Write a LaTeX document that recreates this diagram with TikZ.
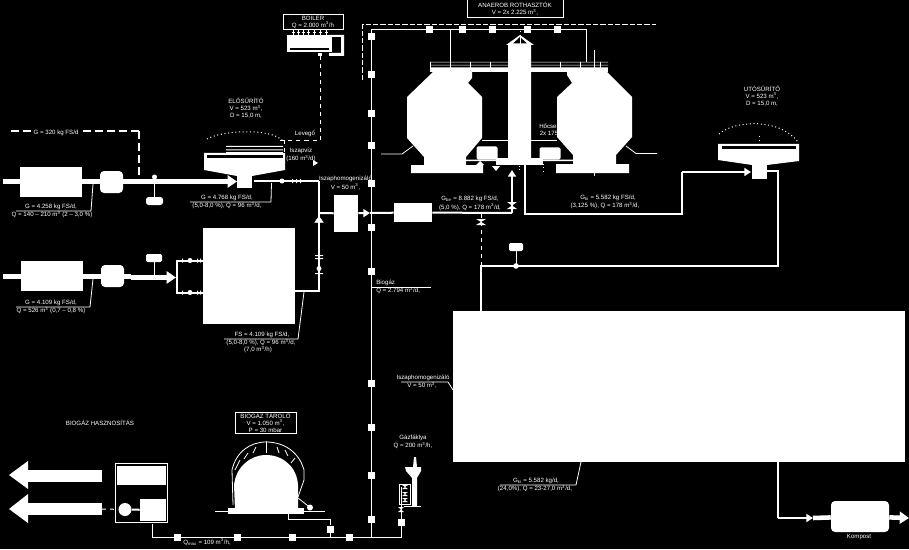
\documentclass[tikz,border=0pt]{standalone}
\usepackage{fontspec}
\setmainfont{Liberation Sans}
\usepackage{tikz}
\usetikzlibrary{positioning,arrows.meta,calc}
\newcommand{\px}[1]{#1*0.75pt}
\newcommand{\cbm}{m\textsuperscript{3}}
\begin{document}
\begin{tikzpicture}[
  x=0.75pt,y=-0.75pt,
  font=\fontsize{4.6}{5.2}\selectfont,
  white,
  lbl/.style={text=white,align=center,inner sep=0pt},
  wbox/.style 2 args={fill=white,inner sep=0pt,minimum width=\px{#1},minimum height=\px{#2}},
  rbox/.style 2 args={fill=white,inner sep=0pt,rounded corners=3pt,minimum width=\px{#1},minimum height=\px{#2}},
  obox/.style 2 args={draw=white,line width=0.75pt,fill=black,align=center,inner sep=0pt,minimum width=\px{#1},minimum height=\px{#2}},
  sq/.style={fill=white,inner sep=0pt,minimum size=\px{7}},
  band/.style={white,line width=3.4pt},
  pipe/.style={white,line width=1.5pt},
  thinline/.style={white,line width=0.75pt},
  arr/.style={-{Triangle[length=7pt,width=9pt]}},
  arrs/.style={-{Triangle[length=5pt,width=6pt]}},
  leader/.style={white,line width=0.6pt}
]
\fill[black] (0,0) rectangle (909,549);
\useasboundingbox (0,0) rectangle (909,549);

% upper feed line
\node[wbox={62}{30}] (feedA) at (51,182) {};
\node[rbox={23}{22}] (pumpA) at (111.5,182) {};
\coordinate (feedAin) at (3,181.5);
\node[rbox={17}{8},rounded corners=2pt] (blobA) at (154.5,201) {};
\coordinate (tapA) at (154.5,181.5);
\draw[band,arr] (feedAin) -- (237,181.5);
\draw[thinline] (tapA) -- (blobA);
\fill (154.5,177) circle (2.5);
\coordinate (flocA) at (139,131);
\coordinate (flocB) at (139,178);
\draw[white,line width=1pt,dash pattern=on 6pt off 3pt] (11,131) -- (flocA);
\draw[white,line width=1.6pt,dash pattern=on 6pt off 3pt] (flocA) -- (flocB);
\node[lbl,fill=black,inner xsep=2pt] (gFloc) at (56,133) {G = 320 kg FS/d};

% upper thickener
\node[wbox={15}{16}] (thickA) at (244.5,180) {};
\fill (204,153) -- (285,153) -- (285,170) -- (252,176) -- (237,176) -- (204,170) -- cycle;
\fill[black] (207,155) rectangle (283,158);
\fill (226,146) rectangle (283,147) (226,149.5) rectangle (283,150.5);
\fill (226,152) rectangle (283,155);
\draw[thinline,dotted] (207,139) .. controls (220,131) and (270,127) .. (283,141);
\node[lbl] (thickAname) at (246,108.5) {ELŐSŰRÍTŐ\\V = 523 \cbm,\\D = 15,0 m,};
\node[lbl] (lev) at (305,134) {Levegő};
\node[lbl] (ivz) at (301,155) {Iszapvíz\\(160 \cbm/d)};
\fill (313,160) -- (318,163) -- (313,166) -- cycle;
\coordinate (levA) at (280,140.5);
\coordinate (levB) at (320.5,140.5);
\draw[thinline,dashed] (levA) -- (308,140.5);
\draw[thinline,dashed] (284.5,140.5) -- (284.5,152);
\draw[pipe] (254,181) -- (319,181);
\fill (282,181) circle (2.5) (292,179) rectangle (293,183) (296,179) rectangle (297,183) (300,179) rectangle (301,183);
\draw[leader] (93,184) -- (91,211) -- (16,211);
\node[lbl] (gA) at (51,207) {G = 4.258 kg FS/d,};
\node[lbl] (qA) at (52,214.5) {Q = 140 – 210 m\textsuperscript{3} (2 – 3,0 \%)};
\draw[leader] (271.5,183) -- (271,202) -- (190,202);
\node[lbl] (gB) at (227,198) {G = 4.768 kg FS/d,};
\node[lbl] (qB) at (227,205.5) {(5,0-8,0 \%), Q = 96 \cbm/d,};

% lower feed line
\node[wbox={62}{30}] (feedB) at (52,276) {};
\node[rbox={23}{22}] (pumpB) at (112.5,276) {};
\node[rbox={16}{8},rounded corners=1pt] (blobB) at (154,258) {};
\coordinate (tapB) at (154,277);
\draw[band] (3,276.5) -- (131,276.5);
\draw[band,arr] (131,277.5) -- (176,277.5);
\draw[thinline] (tapB) -- (blobB);
\draw[leader] (93,279) -- (90,307) -- (16,307);
\node[lbl] (gC) at (51,303) {G = 4.109 kg FS/d,};
\node[lbl] (qC) at (51,310.5) {Q = 526 \cbm{} (0,7 – 0,8 \%)};

% digestion press
\node[wbox={92}{96}] (press) at (249,276) {};
\draw[pipe] (203,260.5) -- (177,260.5) -- (177,292.5) -- (203,292.5);
\foreach \yy in {260.5,292.5}{
  \fill (190,\yy) circle (2.5);
  \fill (182,\yy-2) rectangle (183,\yy+2) (197,\yy-2) rectangle (198,\yy+2) (200,\yy-2) rectangle (201,\yy+2);
}
\coordinate (pressOut) at (319,291);
\draw[pipe] (press.east |- pressOut) -- (pressOut) -- (319,181);
\draw[white,-{Triangle[length=5pt,width=7pt]}] (319,240) -- (319,216);
\fill (319,268.5) circle (2.5) (315,255) rectangle (323,256) (315,258) rectangle (323,259) (315,273) rectangle (323,274);
\draw[leader] (304,292) -- (298,339) -- (224,339);
\node[lbl] (gD) at (262,335) {FS = 4.109 kg FS/d,};
\node[lbl] (qD) at (261,342.5) {(5,0-8,0 \%), Q = 96 \cbm/d,};
\node[lbl] (qE) at (258,349.5) {(7,0 \cbm/h)};

% homogenizer and heater
\node[wbox={24}{37}] (homog) at (346,213.5) {};
\node[wbox={38}{19}] (heater) at (413,212.5) {};
\node[lbl] (homogName) at (345.5,183) {Iszaphomogenizáló\\V = 50 \cbm,};
\draw[pipe] (319,213) -- (homog);
\draw[pipe,arrs] (homog) -- (370,213);
\draw[pipe] (370,213) -- (heater);
\coordinate (digIn) at (512,170);
\draw[pipe] (heater) -- (512,213);
\draw[pipe,arrs] (512,213) -- (digIn);
\fill (507,202) -- (517,202) -- (507,209) -- (517,209) -- cycle;
\node[lbl] (gE) at (470,199) {G\textsubscript{be} = 8.882 kg FS/d,};
\node[lbl] (qF) at (470,207) {(5,0 \%), Q = 178 \cbm/d,};

% gas main
\coordinate (gasTop) at (371.5,29.5);
\coordinate (gasBottom) at (371.5,537);
\draw[thinline] (586,29.5) -- (gasTop) -- (gasBottom);
\foreach \yy in {37,75,114,146,183,227,271,383,427,475,519}
  \node[sq] at (371.5,\yy) {};
\foreach \xx in {429,462,492,527,557}
  \node[sq] at (\xx,29.5) {};
\draw[thinline,dash pattern=on 4pt off 1.5pt] (362,80) -- (362,25) -- (656,25);
\draw[leader] (371.5,287) -- (431,287);
\node[lbl,anchor=west] (biogas) at (376,283) {Biogáz};
\node[lbl,anchor=west] (biogasQ) at (376,290.5) {Q = 2.794 \cbm/d,};
\draw[leader] (381,154) -- (402,154) -- (413,146);

% boiler
\node[obox={60}{15}] (boilerName) at (313,22.5) {BOILER\\Q = 2.000 \cbm/h};
\fill (287,35) rectangle (332,52);
\fill (329,35) rectangle (344,37) (341,35) rectangle (344,55) (329,53) rectangle (344,56);
\fill[black] (290,48) rectangle (329,50);
\fill (290,47.5) rectangle (300,48.5);
\foreach \xx in {293,298,303,308,314,320,326}
  \draw[thinline] (\xx,30) -- (\xx,35) (\xx-1.5,33) -- (\xx+1.5,33);
\fill (318,53) rectangle (322,56);
\coordinate (boilerIn) at (320.5,56);
\draw[thinline,dashed] (boilerIn) -- (levB) -- (308,140.5);

% digesters
\node[obox={96}{18}] (digName) at (515,9) {ANAEROB ROTHASZTÓK\\V = 2x 2.225 \cbm,};
\node[lbl,anchor=west] (hxName) at (539,129.5) {Hőcser\\2x 175};
\fill (433,72) -- (472,72) -- (472,78) -- (468,83) -- (482,97) -- (482,138) -- (466,157) -- (466,165) -- (483,165) -- (483,173) -- (411,173) -- (411,165) -- (424,165) -- (424,157) -- (407,138) -- (407,97) -- cycle;
\fill (557,97) -- (572,83) -- (567,75) -- (567,72) -- (607,72) -- (632,97) -- (632,137) -- (616,155) -- (616,164) -- (629,164) -- (629,173) -- (556,173) -- (556,164) -- (573,164) -- (573,155) -- (557,137) -- cycle;
\fill (508,45) -- (508,158) -- (531,158) -- (531,45) -- (534,45) -- (520,35) -- (506,45) -- cycle;
\draw[thinline,dotted] (520,31) -- (520,35);
\fill[black] (520,37) -- (527,43.5) -- (513,43.5) -- cycle;
\draw[leader] (520,37) -- (520,44);
\node[wbox={47}{7}] (platform) at (519,161.5) {};
\node[rbox={21}{13},rounded corners=1pt] (hxA) at (487,153) {};
\node[rbox={21}{12},rounded corners=1pt] (hxB) at (550,153.5) {};
\fill (430,62) rectangle (608,62.5) (430,65) rectangle (608,65.5) (430,67.5) rectangle (608,68);
\fill (430,68.5) rectangle (608,72);
\foreach \xx in {430,450,470,490,560,580,600}
  \fill (\xx,62) rectangle (\xx+.6,68);
\draw[thinline] (482,141) -- (508,141) (531,141) -- (557,141);
\fill (466,159.5) rectangle (496,161) (543,159.5) rectangle (573,161);
\draw[thinline] (450,29.5) -- (450,62) (586,29.5) -- (586,62);
\draw[thinline] (594,50) -- (594,72) (594,170) -- (594,176);
\draw[leader] (657,153.5) -- (636,153.5) -- (626,146);
\fill (476,165) -- (480,161) -- (484,165) -- cycle (492,166) -- (500,166) -- (496,171) -- cycle;
\draw[leader,dotted] (519,166) -- (519,172) (543,164) -- (543,171);

% digested sludge to post thickener
\coordinate (digOut) at (525,165);
\draw[pipe] (digOut) -- (525,214) -- (681.5,214) -- (681.5,172);
\draw[pipe,arrs] (681.5,172) -- (751,172);
\node[lbl] (gF) at (608,198) {G\textsubscript{ki} = 5.582 kg FS/d,};
\node[lbl] (qG) at (605,205.5) {(3,125 \%), Q = 178 \cbm/d,};

% post thickener
\node[wbox={15}{15}] (thickB) at (759,171) {};
\fill (718,144) -- (799,144) -- (799,161) -- (767,165) -- (752,165) -- (718,160) -- cycle;
\fill[black] (722,146) rectangle (796,149);
\draw[thinline,dotted] (719,134) .. controls (735,120) and (780,118) .. (798,142);
\draw[thinline,dotted] (759,136) -- (759,143);
\node[lbl] (thickBname) at (762,96) {UTÓSŰRÍTŐ\\V = 523 \cbm,\\D = 15,0 m,};

% return line
\coordinate (boxIn) at (481,311);
\draw[pipe] (765,170.5) -- (778,170.5) -- (778,266) -- (481,266) -- (boxIn);
\node[rbox={14}{8},rounded corners=1pt] (blobC) at (516,247) {};
\coordinate (tapC) at (516,266);
\draw[thinline] (tapC) -- (blobC);
\fill (516,266) circle (2.8);
\draw[thinline,dashed] (481,214) -- (481,266);
\fill (476,219) -- (486,219) -- (476,225) -- (486,225) -- cycle;

% big storage
\node[wbox={452}{151}] (store) at (679,386.5) {};
\draw[leader] (453,390) -- (448,382) -- (401,382);
\node[lbl] (stName) at (423,378) {Iszaphomogenizáló};
\node[lbl] (stV) at (422,385.5) {V = 50 \cbm,};
\draw[leader] (581,462) -- (576,485) -- (500,485);
\node[lbl] (gG) at (536,481) {G\textsubscript{ki} = 5.582 kg/d,};
\node[lbl] (qH) at (535,488.5) {(24,0\%), Q = 23-27,0 \cbm/d,};

% compost
\node[rbox={58}{31}] (compost) at (860,516.5) {};
\node[lbl] (compostName) at (859,537) {Kompost};
\coordinate (compIn) at (778,518);
\draw[pipe] (store.south -| compIn) -- (compIn);
\draw[pipe,arrs] (compIn) -- (813,518);
\draw[band] (813,518) -- (compost);
\draw[band,arr] (compost) -- (909,518);

% flare
\node[lbl] (flareName) at (413,442) {Gázfáklya\\Q = 200 \cbm/h,};
\fill (414,457) -- (416,457) -- (417,467) -- (421,467) -- (421,471) -- (417,478) -- (417,506) -- (412,506) -- (412,478) -- (406,471) -- (405,467) -- (413,467) -- cycle;
\draw[thinline] (404,506) -- (421,506);
\node[draw=white,line width=0.6pt,fill=black,inner sep=0pt,minimum width=\px{11},minimum height=\px{20}] (flareBox) at (404.5,494) {};
\foreach \yy in {487,494,500}
  \fill (402,\yy-2) -- (408,\yy-2) -- (402,\yy+2) -- (408,\yy+2) -- cycle;
\draw[thinline] (401,487) -- (401,537) -- (gasBottom);
\fill (398,507) -- (404,507) -- (398,512) -- (404,512) -- cycle;
\node[sq] at (401,522) {};

% gas line to the holder and the engine
\coordinate (genFeed) at (152.5,524);
\draw[thinline] (gasBottom) -- (152.5,537) -- (genFeed);
\foreach \xx in {177,237,292,349}
  \node[sq] at (\xx,537) {};
\node[lbl,anchor=west] (qMax) at (183,542) {Q\textsubscript{max} = 109 \cbm/h,};

% holder
\node[obox={61}{21}] (holderName) at (265.5,422.5) {BIOGÁZ TÁROLÓ\\V = 1.050 \cbm,\\P = 30 mbar};
\fill (235,510) -- (234,485) .. controls (236,467) and (250,455) .. (266,455) .. controls (283,455) and (297,467) .. (298,485) -- (298,510) -- cycle;
\draw[leader] (233,505) -- (232,470) .. controls (236,452) and (250,442) .. (266,442) .. controls (284,442) and (299,452) .. (304,470) -- (304,480) -- (298,497);
\draw[leader] (240,460) -- (235,470) (248,453) -- (244,459) (256,447) -- (253,453) (277,447) -- (279,453) (285,450) -- (288,456) (295,458) -- (291,463);
\draw[thinline] (266,441) -- (266,453);
\draw[thinline] (215,511) -- (325,511);
\node[wbox={76}{6}] (holderBase) at (266,511) {};
\fill (310,507.5) circle (3);
\draw[leader] (298,498) -- (310,507.5);
\node[sq] (holderSq) at (330,529) {};
\coordinate (holderOut) at (288,514);
\draw[thinline] (holderOut) -- (288,519.5) -- (330,519.5) -- (holderSq);
\draw[thinline] (holderSq) -- (330,537);

% engine
\node[lbl] (useName) at (100,423) {BIOGÁZ HASZNOSÍTÁS};
\node[obox={52}{59}] (engine) at (141,493) {};
\node[wbox={49}{19}] (engA) at (141.5,475.5) {};
\node[wbox={26}{22}] (engB) at (153,510) {};
\node[circle,fill=white,inner sep=0pt,minimum size=\px{13}] (motor) at (125,509.5) {};
\draw[pipe] (motor) -- (engB);
\draw[white,line width=9pt] (102,476) -- (28,476);
\fill (28,461) -- (28,489) -- (9,475) -- cycle;
\draw[white,line width=9pt] (102,509) -- (28,509);
\fill (28,494) -- (28,523) -- (9,509) -- cycle;
\draw[thinline,dashed] (102,509) -- (motor);
\end{tikzpicture}
\end{document}
